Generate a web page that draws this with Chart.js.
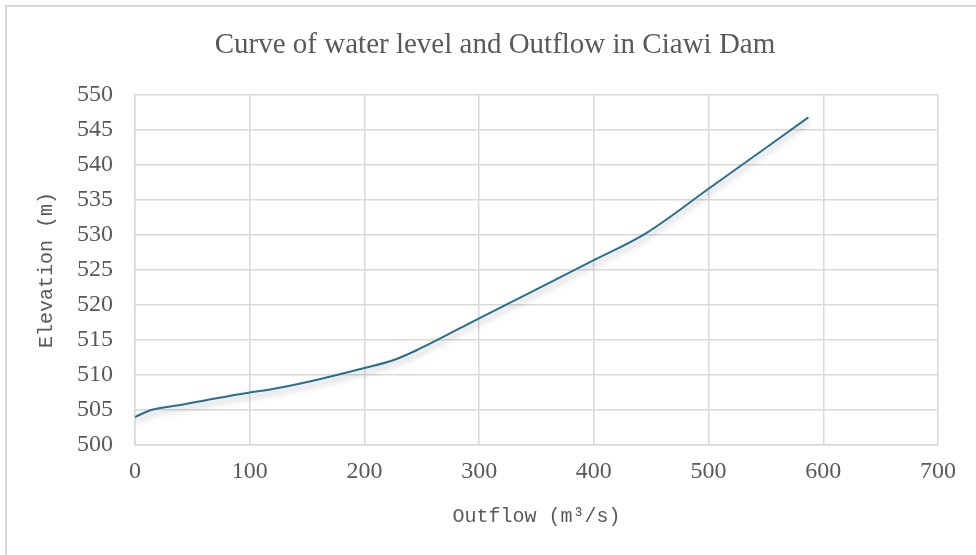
<html lang="en">
  <head>
    <meta charset="UTF-8" />
    <title>Ciawi Dam</title>
    <style>
      body { margin: 0; background: #fff; overflow: hidden; }
      .frame { position: absolute; left: 5px; top: 5px; width: 1000px; height: 600px;
               border-left: 2px solid #d9d9d9; border-top: 2px solid #d9d9d9; }
      #myChart { position: absolute; left: 0; top: 0; }
    </style>
  </head>
  <body>
    <div class="frame"></div>
    <canvas id="myChart" width="976" height="555"></canvas>
  </body>
  <script src="https://cdn.jsdelivr.net/npm/chart.js@4"></script>
  <script>
    // values
    const outflow = [0, 14, 35, 100, 120, 158, 200, 225, 245, 300, 400, 445, 500, 587];
    const elevation = [504.0, 505.0, 505.6, 507.5, 508.0, 509.3, 511.0, 512.1, 513.5, 518.1, 526.4, 530.2, 536.6, 546.8];
    const xTicks = [0, 100, 200, 300, 400, 500, 600, 700];
    const yTicks = [500, 505, 510, 515, 520, 525, 530, 535, 540, 545, 550];
    const chartTitle = "Curve of water level and Outflow in Ciawi Dam";

    const grey = "#595959";
    const gridColor = "#d9d9d9";

    const lineShadow = {
      id: "lineShadow",
      beforeDatasetDraw(chart) {
        const c = chart.ctx;
        c.save();
        c.shadowColor = "rgba(0,0,0,0.3)";
        c.shadowBlur = 6;
        c.shadowOffsetX = 1;
        c.shadowOffsetY = 4;
      },
      afterDatasetDraw(chart) {
        chart.ctx.restore();
      },
    };

    // title sits a bit right of centre in the original, so draw it by hand
    const titleText = {
      id: "titleText",
      afterDraw(chart) {
        const c = chart.ctx;
        c.save();
        c.fillStyle = grey;
        c.font = "29px 'Liberation Serif'";
        c.textAlign = "center";
        c.textBaseline = "middle";
        c.fillText(chartTitle, 495, 45);
        c.restore();
      },
    };

    new Chart(document.getElementById("myChart"), {
      type: "scatter",
      data: {
        datasets: [
          {
            data: outflow.map((x, i) => ({ x: x, y: elevation[i] })),
            showLine: true,
            borderColor: "#2b6f8e",
            borderWidth: 2,
            pointRadius: 0,
            cubicInterpolationMode: "monotone",
          },
        ],
      },
      options: {
        responsive: false,
        animation: false,
        layout: { padding: { left: 0, right: 38, bottom: 0, top: 95 } },
        plugins: {
          legend: { display: false },
          tooltip: { enabled: false },
          title: { display: false },
        },
        scales: {
          x: {
            type: "linear",
            min: 0,
            max: 700,
            afterBuildTicks: (s) => { s.ticks = xTicks.map((v) => ({ value: v })); },
            afterFit: (s) => { s.height = 110; },
            ticks: {
              color: grey,
              padding: 12,
              font: { family: "'Liberation Serif'", size: 24 },
            },
            grid: { color: gridColor, lineWidth: 1.5, drawTicks: false },
            border: { color: gridColor, width: 1.5 },
            title: {
              display: true,
              text: "Outflow (m³/s)",
              color: grey,
              font: { family: "'Liberation Mono'", size: 20 },
              padding: { top: 4, bottom: 26 },
            },
          },
          y: {
            min: 500,
            max: 550,
            afterBuildTicks: (s) => { s.ticks = yTicks.map((v) => ({ value: v })); },
            afterFit: (s) => { s.width = 135; },
            ticks: {
              color: grey,
              padding: 22,
              font: { family: "'Liberation Serif'", size: 24 },
            },
            grid: { color: gridColor, lineWidth: 1.5, drawTicks: false },
            border: { color: gridColor, width: 1.5 },
            title: {
              display: true,
              text: "Elevation (m)",
              color: grey,
              font: { family: "'Liberation Mono'", size: 20 },
              padding: { top: 35, bottom: 0 },
            },
          },
        },
      },
      plugins: [lineShadow, titleText],
    });
  </script>
</html>
